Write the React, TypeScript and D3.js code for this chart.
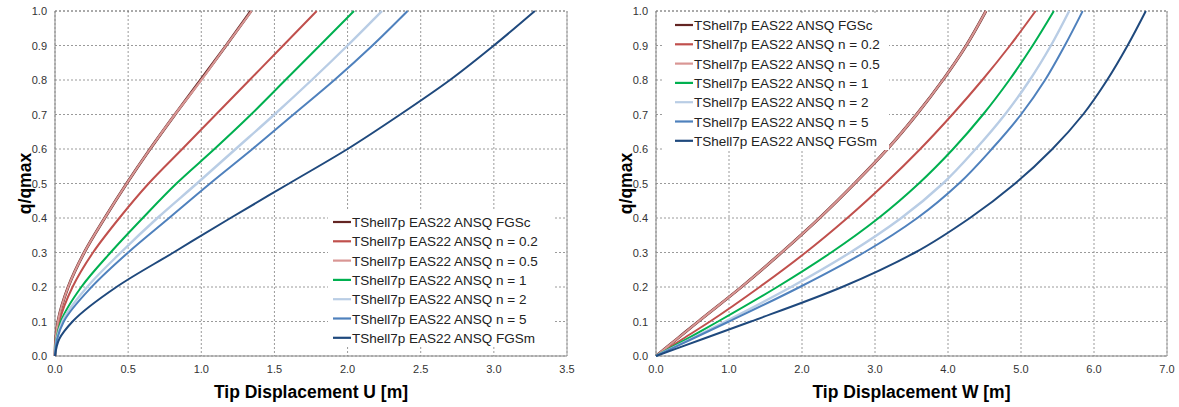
import React from "react";
import * as d3 from "d3";

// load levels shared by every series
const loadLevels = [0, 0.05, 0.1, 0.2, 0.3, 0.4, 0.5, 0.6, 0.7, 0.8, 0.9, 1.0];

const seriesNames = [
  "TShell7p EAS22 ANSQ FGSc",
  "TShell7p EAS22 ANSQ n = 0.2",
  "TShell7p EAS22 ANSQ n = 0.5",
  "TShell7p EAS22 ANSQ n = 1",
  "TShell7p EAS22 ANSQ n = 2",
  "TShell7p EAS22 ANSQ n = 5",
  "TShell7p EAS22 ANSQ FGSm",
];

const seriesColors = ["#632523", "#C0504D", "#D99694", "#00B050", "#B9CDE5", "#4F81BD", "#1F497D"];
const seriesWidths = [2.9, 2, 2.1, 2, 2.4, 2, 2];

// Tip displacement U [m], one value per load level
const uFGSc = [0, 0.005, 0.02, 0.09, 0.2, 0.34, 0.49, 0.65, 0.82, 0.995, 1.17, 1.34];
const uN02 = [0, 0.008, 0.03, 0.12, 0.26, 0.44, 0.64, 0.87, 1.1, 1.33, 1.56, 1.789];
const uN05 = [0, 0.005, 0.02, 0.09, 0.2, 0.34, 0.49, 0.65, 0.82, 1.0, 1.17, 1.344];
const uN1 = [0, 0.01, 0.04, 0.18, 0.38, 0.6, 0.83, 1.09, 1.34, 1.575, 1.81, 2.044];
const uN2 = [0, 0.013, 0.05, 0.22, 0.45, 0.7, 0.97, 1.235, 1.5, 1.755, 2.0, 2.235];
const uN5 = [0, 0.015, 0.06, 0.25, 0.5, 0.78, 1.06, 1.35, 1.63, 1.91, 2.17, 2.41];
const uFGSm = [0, 0.03, 0.12, 0.42, 0.81, 1.2, 1.6, 2.0, 2.36, 2.7, 3.0, 3.28];

// Tip displacement W [m]
const wFGSc = [0, 0.29, 0.58, 1.17, 1.72, 2.24, 2.72, 3.17, 3.57, 3.93, 4.25, 4.52];
const wN02 = [0, 0.37, 0.74, 1.42, 2.05, 2.62, 3.14, 3.62, 4.06, 4.47, 4.85, 5.2];
const wN05 = [0, 0.29, 0.58, 1.17, 1.72, 2.24, 2.72, 3.17, 3.57, 3.93, 4.25, 4.52];
const wN1 = [0, 0.43, 0.85, 1.66, 2.4, 3.05, 3.6, 4.07, 4.48, 4.84, 5.16, 5.45];
const wN2 = [0, 0.48, 0.95, 1.85, 2.66, 3.36, 3.93, 4.38, 4.78, 5.12, 5.41, 5.66];
const wN5 = [0, 0.5, 1.0, 1.97, 2.85, 3.58, 4.15, 4.6, 5.0, 5.33, 5.6, 5.845];
const wFGSm = [0, 0.65, 1.3, 2.55, 3.55, 4.3, 4.92, 5.43, 5.85, 6.18, 6.46, 6.71];

const uTicks = [0, 0.5, 1.0, 1.5, 2.0, 2.5, 3.0, 3.5];
const wTicks = [0, 1, 2, 3, 4, 5, 6, 7];
const qTicks = [0, 0.1, 0.2, 0.3, 0.4, 0.5, 0.6, 0.7, 0.8, 0.9, 1.0];

const FONT = "'Liberation Sans', Arial, sans-serif";

type PanelProps = {
  left: number;
  right: number;
  xMax: number;
  xTicks: number[];
  xTitle: string;
  data: number[][];
  legendX: number;
  legendY: number;
  legendBox: [number, number, number, number];
};

function Panel({ left, right, xMax, xTicks, xTitle, data, legendX, legendY, legendBox }: PanelProps) {
  const top = 11;
  const bottom = 356;
  const x = d3.scaleLinear().domain([0, xMax]).range([left, right]);
  const y = d3.scaleLinear().domain([0, 1]).range([bottom, top]);

  const line = d3
    .line<[number, number]>()
    .x((d) => x(d[0]))
    .y((d) => y(d[1]))
    .curve(d3.curveMonotoneY);

  return (
    <g>
      {/* gridlines */}
      {xTicks.map((t) => (
        <line key={"gx" + t} x1={x(t)} x2={x(t)} y1={top} y2={bottom}
          stroke="#9a9a9a" strokeWidth={1} strokeDasharray="2,2" />
      ))}
      {qTicks.map((t) => (
        <line key={"gy" + t} x1={left} x2={right} y1={y(t)} y2={y(t)}
          stroke={t === 1 ? "#555" : "#9a9a9a"} strokeWidth={1} strokeDasharray="2,2" />
      ))}
      <line x1={left} x2={left} y1={top} y2={bottom} stroke="#868686" />
      <line x1={left} x2={right} y1={bottom} y2={bottom} stroke="#868686" />
      <line x1={right} x2={right} y1={top} y2={bottom} stroke="#a0a0a0" />

      {/* curves */}
      {data.map((vals, i) => (
        <path key={"s" + i}
          d={line(vals.map((v, j) => [v, loadLevels[j]] as [number, number])) || ""}
          fill="none" stroke={seriesColors[i]} strokeWidth={seriesWidths[i]} />
      ))}

      {/* tick labels */}
      {xTicks.map((t) => (
        <text key={"tx" + t} x={x(t)} y={bottom + 17} textAnchor="middle"
          fontSize={11} fill="#333" fontFamily={FONT}>{t.toFixed(1)}</text>
      ))}
      {qTicks.map((t) => (
        <text key={"ty" + t} x={left - 8} y={y(t) + 4} textAnchor="end"
          fontSize={11} fill="#333" fontFamily={FONT}>{t.toFixed(1)}</text>
      ))}

      {/* axis titles */}
      <text x={(left + right) / 2} y={398} textAnchor="middle" fontSize={17.5}
        fontWeight="bold" fill="#000" fontFamily={FONT}>{xTitle}</text>
      <text transform={`translate(${left - 24},${(top + bottom) / 2}) rotate(-90)`}
        textAnchor="middle" fontSize={17.5} fontWeight="bold" fill="#000" fontFamily={FONT}>q/qmax</text>

      {/* legend */}
      <rect x={legendBox[0]} y={legendBox[1]} width={legendBox[2]} height={legendBox[3]} fill="#fff" />
      {seriesNames.map((name, i) => (
        <g key={"l" + i} transform={`translate(${legendX},${legendY + i * 19.3})`}>
          <line x1={0} x2={18} y1={0} y2={0} stroke={seriesColors[i]} strokeWidth={2.2} />
          <text x={19} y={5} fontSize={13.5} fill="#222" fontFamily={FONT}>{name}</text>
        </g>
      ))}
    </g>
  );
}

export default function App() {
  return (
    <svg width={1179} height={407} style={{ position: "absolute", left: 0, top: 0, background: "#fff" }}>
      <Panel left={55} right={567} xMax={3.5} xTicks={uTicks} xTitle="Tip Displacement U [m]"
        data={[uFGSc, uN02, uN05, uN1, uN2, uN5, uFGSm]}
        legendX={333} legendY={222} legendBox={[328, 210, 225, 136]} />
      <Panel left={656} right={1167} xMax={7} xTicks={wTicks} xTitle="Tip Displacement W [m]"
        data={[wFGSc, wN02, wN05, wN1, wN2, wN5, wFGSm]}
        legendX={675} legendY={25} legendBox={[664, 14, 225, 136]} />
    </svg>
  );
}
